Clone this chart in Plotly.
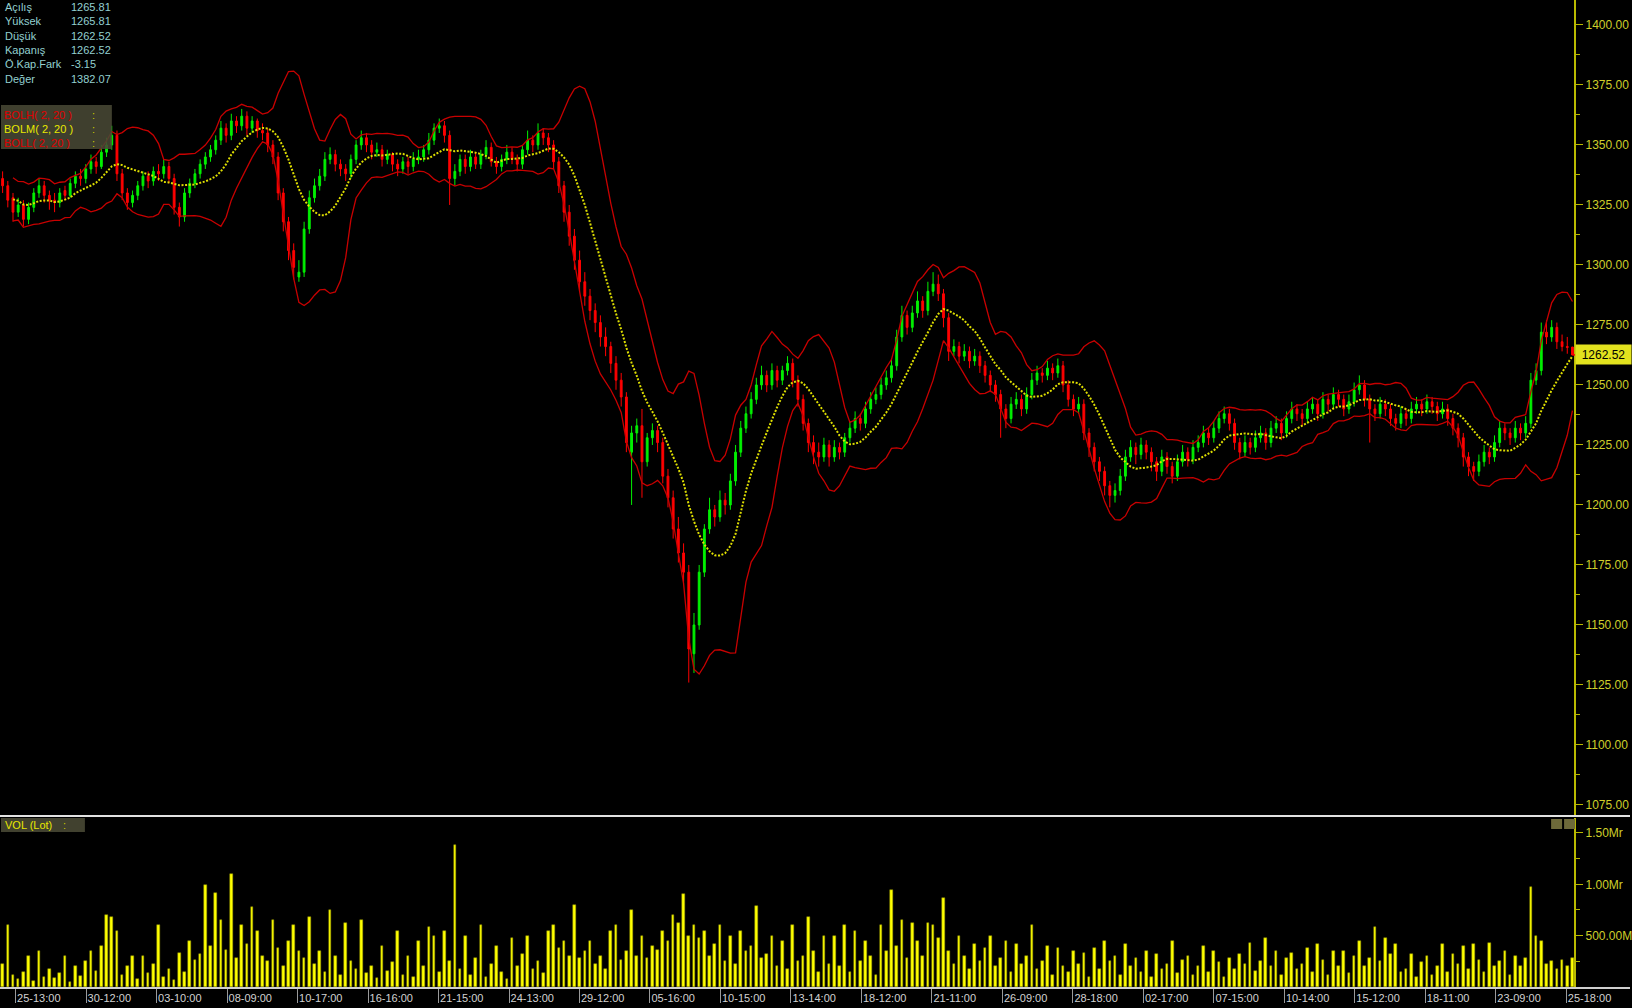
import plotly.graph_objects as go
import pandas as pd

# ---------------- data (hourly bars) ----------------
opens = [
1336,1333,1328,1322,1325,1319,1324,1330,1333,1329,
1327,1326,1331,1329,1334,1337,1336,1340,1343,1341,
1347,1350,1354,1338,1330,1326,1329,1333,1337,1335,
1339,1338,1341,1336,1324,1320,1330,1334,1338,1342,
1345,1348,1352,1357,1354,1360,1358,1362,1357,1360,
1356,1355,1350,1345,1330,1318,1306,1295,1297,1315,
1328,1333,1337,1344,1346,1342,1340,1338,1344,1350,
1353,1350,1347,1348,1344,1346,1342,1340,1343,1341,
1344,1345,1348,1352,1357,1358,1354,1336,1339,1344,
1341,1345,1342,1346,1349,1343,1341,1344,1347,1344,
1342,1348,1352,1350,1355,1353,1350,1343,1333,1322,
1312,1302,1293,1287,1281,1276,1270,1266,1259,1252,
1245,1222,1230,1233,1218,1228,1231,1226,1212,1203,
1190,1180,1172,1138,1150,1172,1190,1198,1195,1202,
1200,1210,1222,1232,1238,1244,1250,1254,1250,1256,
1252,1256,1259,1252,1244,1234,1226,1222,1220,1225,
1220,1224,1222,1228,1232,1236,1234,1240,1244,1246,
1250,1253,1258,1270,1279,1274,1280,1285,1281,1289,
1292,1288,1278,1264,1266,1262,1264,1260,1262,1258,
1254,1250,1246,1240,1236,1242,1244,1240,1246,1252,
1255,1254,1257,1255,1258,1250,1244,1240,1242,1230,
1224,1218,1214,1208,1204,1206,1212,1220,1224,1221,
1225,1222,1218,1214,1220,1216,1212,1218,1222,1219,
1224,1226,1230,1228,1232,1236,1238,1234,1226,1222,
1226,1224,1228,1230,1226,1232,1234,1230,1236,1240,
1238,1236,1240,1242,1238,1244,1242,1246,1244,1240,
1243,1248,1250,1244,1240,1238,1242,1240,1236,1234,
1238,1236,1240,1242,1240,1243,1241,1238,1240,1236,
1232,1228,1220,1216,1214,1218,1222,1220,1226,1232,
1230,1228,1232,1230,1234,1252,1256,1272,1270,1274,
1268,1266,1265.81]

highs = [
1339,1335,1330,1328,1327,1326,1332,1336,1335,1331,
1330,1332,1333,1336,1339,1340,1342,1346,1345,1350,
1353,1358,1356,1340,1332,1331,1335,1339,1339,1341,
1342,1344,1343,1338,1326,1332,1336,1340,1344,1347,
1350,1354,1360,1359,1363,1362,1365,1364,1362,1361,
1359,1357,1352,1347,1332,1320,1309,1302,1318,1331,
1336,1340,1347,1349,1348,1344,1342,1346,1352,1356,
1355,1352,1351,1350,1348,1347,1344,1345,1345,1347,
1348,1350,1355,1359,1361,1360,1356,1342,1346,1346,
1348,1347,1348,1352,1351,1345,1346,1350,1349,1346,
1350,1356,1354,1359,1357,1355,1352,1345,1335,1325,
1315,1306,1297,1290,1284,1279,1274,1268,1262,1255,
1247,1233,1236,1240,1230,1234,1233,1228,1215,1206,
1195,1184,1175,1155,1175,1192,1203,1200,1206,1205,
1213,1225,1235,1241,1247,1253,1258,1256,1259,1258,
1258,1262,1261,1254,1246,1236,1229,1226,1228,1227,
1227,1226,1230,1235,1239,1238,1243,1247,1249,1253,
1256,1261,1273,1283,1281,1283,1289,1287,1293,1297,
1296,1290,1280,1269,1268,1267,1266,1265,1264,1260,
1256,1252,1248,1242,1245,1247,1246,1249,1255,1258,
1257,1260,1259,1261,1260,1252,1246,1245,1244,1232,
1226,1220,1216,1210,1209,1215,1223,1227,1226,1228,
1227,1224,1220,1223,1222,1218,1221,1225,1224,1227,
1229,1233,1232,1235,1239,1241,1240,1236,1228,1229,
1228,1231,1233,1232,1235,1237,1236,1239,1243,1242,
1240,1243,1245,1244,1247,1246,1249,1248,1246,1246,
1251,1254,1252,1246,1242,1245,1244,1242,1238,1241,
1240,1243,1245,1244,1246,1245,1243,1243,1242,1238,
1234,1230,1222,1218,1221,1225,1224,1229,1235,1234,
1232,1235,1234,1237,1255,1259,1276,1277,1277,1276,
1271,1270,1265.81]

lows = [
1330,1324,1318,1320,1316,1317,1322,1328,1326,1323,
1322,1324,1327,1328,1332,1333,1334,1338,1338,1340,
1345,1348,1335,1327,1323,1324,1327,1331,1332,1333,
1335,1336,1334,1321,1316,1318,1328,1332,1336,1340,
1343,1346,1350,1351,1352,1355,1356,1354,1355,1353,
1352,1347,1342,1327,1314,1302,1294,1293,1295,1313,
1326,1331,1335,1342,1339,1337,1335,1336,1342,1348,
1347,1344,1345,1341,1342,1339,1337,1338,1338,1339,
1342,1343,1346,1350,1355,1351,1325,1333,1337,1338,
1339,1340,1340,1344,1341,1338,1339,1342,1342,1339,
1340,1346,1347,1348,1350,1347,1340,1330,1318,1308,
1298,1289,1283,1277,1272,1266,1262,1255,1248,1241,
1222,1200,1226,1203,1216,1225,1222,1209,1199,1186,
1176,1168,1126,1130,1148,1170,1188,1191,1193,1196,
1198,1208,1220,1230,1236,1242,1248,1247,1248,1249,
1250,1254,1249,1241,1231,1222,1217,1216,1218,1216,
1218,1219,1220,1226,1230,1231,1232,1238,1242,1244,
1248,1251,1256,1268,1271,1272,1278,1278,1279,1287,
1285,1274,1260,1262,1259,1260,1257,1258,1255,1251,
1247,1243,1228,1232,1234,1240,1237,1238,1244,1250,
1251,1252,1252,1253,1247,1241,1237,1238,1227,1220,
1214,1210,1204,1199,1201,1204,1210,1218,1217,1219,
1219,1214,1210,1212,1213,1209,1210,1216,1216,1217,
1222,1224,1225,1226,1230,1234,1231,1223,1219,1220,
1221,1222,1226,1223,1224,1230,1227,1228,1234,1235,
1233,1234,1238,1235,1236,1239,1240,1241,1237,1238,
1241,1246,1241,1226,1235,1236,1237,1233,1231,1232,
1233,1234,1238,1237,1238,1238,1235,1236,1233,1229,
1224,1216,1212,1210,1212,1216,1217,1218,1224,1227,
1225,1226,1227,1228,1232,1250,1254,1267,1268,1265,
1264,1263,1262.52]

closes = [
1333,1327,1322,1325,1319,1324,1330,1333,1329,1327,
1326,1330,1329,1334,1337,1336,1340,1343,1341,1347,
1350,1354,1338,1330,1326,1329,1333,1337,1335,1339,
1338,1341,1336,1324,1320,1330,1334,1338,1342,1345,
1348,1352,1357,1354,1360,1358,1362,1357,1360,1356,
1355,1350,1345,1330,1318,1306,1299,1297,1315,1328,
1333,1337,1344,1346,1342,1340,1338,1344,1350,1353,
1350,1347,1348,1344,1346,1342,1340,1343,1341,1344,
1345,1348,1352,1357,1358,1354,1336,1339,1344,1341,
1345,1342,1346,1349,1343,1341,1344,1347,1344,1342,
1348,1352,1350,1355,1353,1350,1343,1333,1322,1312,
1302,1293,1287,1281,1276,1270,1266,1259,1252,1245,
1226,1230,1233,1218,1228,1231,1226,1212,1203,1190,
1180,1172,1140,1150,1172,1190,1198,1195,1202,1200,
1210,1222,1232,1238,1244,1250,1254,1250,1256,1252,
1256,1259,1252,1244,1234,1226,1222,1220,1225,1220,
1224,1222,1228,1232,1236,1234,1240,1244,1246,1250,
1253,1258,1270,1279,1274,1280,1285,1281,1289,1292,
1288,1278,1264,1266,1262,1264,1260,1262,1258,1254,
1250,1246,1240,1236,1242,1244,1240,1246,1252,1255,
1254,1257,1255,1258,1250,1244,1240,1242,1230,1224,
1218,1214,1208,1204,1206,1212,1220,1224,1221,1225,
1222,1218,1214,1220,1216,1212,1218,1222,1219,1224,
1226,1230,1228,1232,1236,1238,1234,1226,1222,1226,
1224,1228,1230,1226,1232,1234,1230,1236,1240,1238,
1236,1240,1242,1238,1244,1242,1246,1244,1240,1243,
1248,1250,1244,1240,1238,1242,1240,1236,1234,1238,
1236,1240,1242,1240,1243,1241,1238,1240,1236,1232,
1228,1220,1216,1214,1218,1222,1220,1226,1232,1230,
1228,1232,1230,1234,1252,1256,1272,1270,1274,1268,
1266,1265.67,1262.52]

# volume in millions of lots
volumes_m = [
0.22,0.60,0.12,0.08,0.15,0.30,0.06,0.35,0.10,0.18,
0.09,0.14,0.30,0.05,0.20,0.11,0.25,0.35,0.16,0.40,
0.70,0.68,0.55,0.12,0.20,0.30,0.08,0.30,0.14,0.22,
0.60,0.10,0.18,0.07,0.33,0.15,0.45,0.26,0.32,0.99,
0.40,0.92,0.65,0.36,1.10,0.28,0.60,0.42,0.78,0.55,
0.30,0.25,0.65,0.38,0.20,0.45,0.60,0.35,0.28,0.68,
0.22,0.35,0.15,0.75,0.30,0.12,0.62,0.25,0.18,0.65,
0.14,0.20,0.09,0.40,0.16,0.24,0.55,0.12,0.30,0.10,
0.45,0.20,0.58,0.50,0.15,0.55,0.25,1.38,0.18,0.50,
0.12,0.28,0.60,0.10,0.22,0.40,0.15,0.08,0.48,0.20,
0.32,0.50,0.18,0.25,0.14,0.55,0.60,0.38,0.45,0.30,
0.80,0.28,0.35,0.45,0.22,0.30,0.18,0.55,0.60,0.26,
0.35,0.75,0.30,0.50,0.28,0.40,0.36,0.55,0.45,0.70,
0.62,0.91,0.50,0.60,0.48,0.55,0.30,0.42,0.60,0.25,
0.50,0.22,0.55,0.35,0.40,0.79,0.28,0.32,0.50,0.20,
0.45,0.18,0.60,0.25,0.30,0.68,0.35,0.15,0.50,0.22,
0.50,0.20,0.60,0.15,0.55,0.25,0.45,0.30,0.12,0.60,
0.35,0.94,0.40,0.65,0.28,0.62,0.45,0.30,0.62,0.60,
0.48,0.87,0.35,0.22,0.50,0.30,0.18,0.42,0.25,0.38,
0.50,0.20,0.28,0.45,0.15,0.42,0.22,0.30,0.60,0.18,
0.25,0.40,0.12,0.38,0.20,0.15,0.35,0.22,0.33,0.10,
0.38,0.18,0.45,0.25,0.30,0.12,0.42,0.20,0.28,0.15,
0.35,0.10,0.32,0.18,0.22,0.45,0.14,0.26,0.30,0.12,
0.20,0.40,0.15,0.35,0.24,0.10,0.28,0.18,0.32,0.22,
0.43,0.16,0.25,0.48,0.20,0.35,0.12,0.28,0.33,0.18,
0.22,0.38,0.15,0.42,0.26,0.12,0.35,0.20,0.35,0.14,
0.30,0.45,0.20,0.28,0.58,0.25,0.48,0.32,0.42,0.15,
0.18,0.32,0.10,0.24,0.30,0.12,0.20,0.42,0.15,0.32,
0.22,0.40,0.18,0.42,0.26,0.15,0.43,0.20,0.25,0.35,
0.12,0.30,0.20,0.28,0.97,0.50,0.45,0.22,0.25,0.18,
0.26,0.20,0.28]

x_labels = ["25-13:00", "30-12:00", "03-10:00", "08-09:00", "10-17:00", "16-16:00",
            "21-15:00", "24-13:00", "29-12:00", "05-16:00", "10-15:00", "13-14:00",
            "18-12:00", "21-11:00", "26-09:00", "28-18:00", "02-17:00", "07-15:00",
            "10-14:00", "15-12:00", "18-11:00", "23-09:00", "25-18:00"]

info_labels = ["Açılış", "Yüksek", "Düşük", "Kapanış", "Ö.Kap.Fark", "Değer"]
deger_value = 1382.07
bb_text = ["BOLH( 2, 20 )", "BOLM( 2, 20 )", "BOLL( 2, 20 )"]
bb_mult = 2
bb_window = 10   # each plotted bar aggregates two source bars -> 20 source bars

# ---------------- processing ----------------
n = min(len(opens), len(highs), len(lows), len(closes), len(volumes_m))
opens, highs, lows, closes, volumes_m = opens[:n], highs[:n], lows[:n], closes[:n], volumes_m[:n]
idx = list(range(n))

s = pd.Series(closes, dtype=float)
mid = s.rolling(bb_window, min_periods=3).mean()
sd = s.rolling(bb_window, min_periods=3).std(ddof=0)
upper = mid + bb_mult * sd
lower = mid - bb_mult * sd

W, H = 1632, 1008
axis_px = 1577
x_right = axis_px / W
x_end = -0.5 + n * W / axis_px

FONT = "Liberation Sans, Arial, sans-serif"
AX_YEL = "#b9b900"
TXT_YEL = "#cfcf2a"

fig = go.Figure()
fig.add_trace(go.Scatter(x=idx, y=upper, mode="lines", line=dict(color="#c80000", width=1.3),
                         xaxis="x", yaxis="y", hoverinfo="skip"))
fig.add_trace(go.Scatter(x=idx, y=lower, mode="lines", line=dict(color="#c80000", width=1.3),
                         xaxis="x", yaxis="y", hoverinfo="skip"))
fig.add_trace(go.Candlestick(
    x=idx, open=opens, high=highs, low=lows, close=closes, xaxis="x", yaxis="y",
    increasing=dict(line=dict(color="#00f000", width=1), fillcolor="#00f000"),
    decreasing=dict(line=dict(color="#ff0000", width=1), fillcolor="#ff0000"),
    whiskerwidth=0, hoverinfo="skip"))
fig.add_trace(go.Scatter(x=idx, y=mid, mode="lines",
                         line=dict(color="#dede00", width=2, dash="2px,1.6px"),
                         xaxis="x", yaxis="y", hoverinfo="skip"))
fig.add_trace(go.Bar(x=idx, y=volumes_m, xaxis="x", yaxis="y2", width=0.5,
                     marker=dict(color="#ffff00", line=dict(color="#8f8f00", width=0.5)),
                     hoverinfo="skip"))

tick_first, tick_step = 2.5, 13.56
tickvals = [tick_first + i * tick_step for i in range(len(x_labels))]

fig.update_layout(
    width=W, height=H, margin=dict(l=0, r=0, t=0, b=0),
    paper_bgcolor="black", plot_bgcolor="black", showlegend=False,
    hovermode=False, boxgap=0.5, bargap=0,
    font=dict(family=FONT),
    xaxis=dict(domain=[0, 1], range=[-0.5, x_end], anchor="y2", showgrid=False, zeroline=False,
               rangeslider=dict(visible=False), tickmode="array", tickvals=tickvals,
               ticktext=x_labels, ticks="outside", ticklen=14, tickwidth=1, tickcolor="#9a9a9a",
               ticklabelposition="outside right",
               tickfont=dict(family=FONT, size=11, color="#d2d2d2"),
               showline=True, linecolor="#cfcfcf", linewidth=2),
    yaxis=dict(domain=[(H - 816) / H, 1], range=[1070.4, 1410.4], anchor="free",
               position=x_right, side="right", showgrid=False, zeroline=False,
               dtick=25, tick0=0, tickformat=".2f", ticks="outside", ticklen=7,
               tickcolor=AX_YEL, tickwidth=1, showline=True, linecolor=AX_YEL, linewidth=2,
               tickfont=dict(family=FONT, size=12, color=TXT_YEL),
               minor=dict(ticks="outside", ticklen=4, tickcolor=AX_YEL, dtick=12.5, tick0=0)),
    yaxis2=dict(domain=[(H - 987) / H, (H - 818) / H], range=[0, 1.6456], anchor="free",
                position=x_right, side="right", showgrid=False, zeroline=False,
                tickmode="array", tickvals=[0.5, 1.0, 1.5],
                ticktext=["500.00M", "1.00Mr", "1.50Mr"], ticks="outside", ticklen=7,
                tickcolor=AX_YEL, showline=True, linecolor=AX_YEL, linewidth=2,
                tickfont=dict(family=FONT, size=12, color=TXT_YEL),
                minor=dict(ticks="outside", ticklen=4, tickcolor=AX_YEL,
                           tickvals=[0.25, 0.75, 1.25])),
)

def px(x):
    return x / W

def py(y):
    return 1 - y / H

shapes = []
# panel separator
shapes.append(dict(type="line", xref="paper", yref="paper", x0=0, x1=1, y0=py(816), y1=py(816),
                   line=dict(color="#e2e2e2", width=2)))
# last price line
shapes.append(dict(type="line", xref="x", yref="y", x0=n - 1, x1=n - 0.5,
                   y0=closes[-1], y1=closes[-1], line=dict(color="#ff0000", width=1.5)))
# indicator legend box
shapes.append(dict(type="rect", xref="paper", yref="paper", x0=px(1), x1=px(112),
                   y0=py(149), y1=py(105), fillcolor="rgba(72,72,52,0.88)", line=dict(width=0),
                   layer="above"))
# VOL box
shapes.append(dict(type="rect", xref="paper", yref="paper", x0=px(1), x1=px(85),
                   y0=py(832), y1=py(818), fillcolor="rgba(72,72,52,0.9)", line=dict(width=0)))
# small panel buttons
for bx in (1553, 1566):
    shapes.append(dict(type="rect", xref="paper", yref="paper", x0=px(bx), x1=px(bx + 11),
                       y0=py(829), y1=py(819), fillcolor="#6e6a3a", line=dict(width=0)))
fig.update_layout(shapes=shapes)

ann = []
info_values = [f"{opens[-1]:.2f}", f"{highs[-1]:.2f}", f"{lows[-1]:.2f}", f"{closes[-1]:.2f}",
               f"{closes[-1] - closes[-2]:.2f}", f"{deger_value:.2f}"]
for i, (lab, val) in enumerate(zip(info_labels, info_values)):
    yy = py(7 + i * 14.3)
    ann.append(dict(x=px(3), y=yy, xref="paper", yref="paper", text=lab, showarrow=False,
                    xanchor="left", yanchor="middle",
                    font=dict(family=FONT, size=11, color="#93d0d0")))
    ann.append(dict(x=px(69), y=yy, xref="paper", yref="paper", text=val, showarrow=False,
                    xanchor="left", yanchor="middle",
                    font=dict(family=FONT, size=11, color="#93d0d0")))

bb_colors = ["#e00000", "#e8e800", "#e00000"]
for i, (t, c) in enumerate(zip(bb_text, bb_colors)):
    yy = py(115 + i * 14)
    ann.append(dict(x=px(2), y=yy, xref="paper", yref="paper", text=t, showarrow=False,
                    xanchor="left", yanchor="middle", font=dict(family=FONT, size=11, color=c)))
    ann.append(dict(x=px(90), y=yy, xref="paper", yref="paper", text=":", showarrow=False,
                    xanchor="left", yanchor="middle", font=dict(family=FONT, size=11, color="#c8c800")))

ann.append(dict(x=px(3), y=py(825), xref="paper", yref="paper", text="VOL (Lot)", showarrow=False,
                xanchor="left", yanchor="middle", font=dict(family=FONT, size=11, color="#e8e800")))
ann.append(dict(x=px(61), y=py(825), xref="paper", yref="paper", text=":", showarrow=False,
                xanchor="left", yanchor="middle", font=dict(family=FONT, size=11, color="#c8c800")))

# last price tag on the axis
ann.append(dict(x=x_right, y=closes[-1], xref="paper", yref="y", text=f"{closes[-1]:.2f}",
                showarrow=False, xanchor="left", yanchor="middle", bgcolor="#e2e21e",
                width=53, height=17, font=dict(family=FONT, size=12, color="#000000")))
fig.update_layout(annotations=ann)

fig.write_html("out.html", config={"displayModeBar": False},
               post_script="document.body.style.margin='0px';"
                           "document.body.style.overflow='hidden';")
